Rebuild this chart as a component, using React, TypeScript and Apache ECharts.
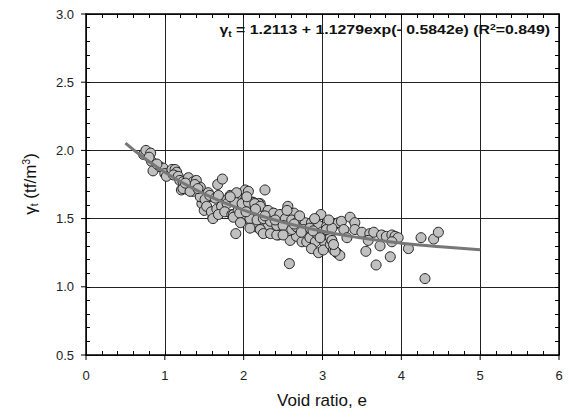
import React, { useEffect, useRef } from "react";
import * as echarts from "echarts";

// Measured data: void ratio e and unit weight γt (tf/m³)
const voidRatio = [
  0.73, 0.76, 0.82, 0.83, 0.85, 0.94, 0.98, 1.0, 1.02, 1.09, 1.13, 1.15, 1.11, 1.17, 1.19, 0.8, 0.9,
  1.23, 1.3, 1.36, 1.4, 1.45, 1.21, 1.3, 1.36, 1.23, 1.38, 1.32, 1.47, 1.55, 1.59, 1.67, 1.73, 1.47, 1.5,
  1.61, 1.66, 1.79, 1.83, 1.45, 1.51, 1.57, 1.64, 1.68, 1.53, 1.59, 1.66, 1.72, 1.79, 1.91, 1.61, 1.68,
  1.76, 1.85, 1.9, 1.26, 1.42,
  1.87, 1.93, 2.0, 2.02, 2.06, 2.27, 2.12, 2.21, 2.29, 2.36, 2.08, 2.12, 2.21, 2.31, 2.44, 2.1, 2.19,
  1.89, 1.98, 2.06, 2.14, 2.21, 2.31, 2.38, 2.46, 1.87, 1.95, 2.08, 2.17, 2.25, 2.08, 2.21, 2.25, 2.34,
  2.42, 2.34, 2.42, 1.91, 1.83, 2.04, 2.15, 2.27, 2.4, 1.96, 2.03,
  2.56, 2.64, 2.98, 2.58, 2.53, 2.61, 2.69, 2.78, 2.86, 2.95, 3.05, 3.14, 3.2, 2.5, 2.59, 2.67, 2.74,
  2.8, 2.5, 2.61, 2.67, 2.76, 2.84, 2.84, 2.91, 3.03, 3.1, 2.93, 2.99, 3.05, 3.12, 2.86, 2.95, 3.01,
  3.1, 3.14, 3.18, 3.22, 3.16, 3.12, 3.14, 2.71, 2.9, 2.55, 2.73, 2.88, 3.08, 2.64, 2.97,
  3.24, 3.27, 3.31, 3.35, 3.41, 3.41, 3.5, 3.6, 3.65, 3.75, 3.81, 3.88, 3.92, 3.96, 3.58, 3.73, 3.88,
  3.55, 3.86, 3.68, 4.09, 4.25, 4.41, 4.47, 4.3,
];
const unitWeight = [
  1.97, 2.0, 1.98, 1.92, 1.85, 1.88, 1.87, 1.83, 1.81, 1.86, 1.86, 1.84, 1.82, 1.81, 1.78, 1.95, 1.9,
  1.77, 1.8, 1.77, 1.78, 1.73, 1.71, 1.71, 1.7, 1.72, 1.75, 1.7, 1.67, 1.69, 1.66, 1.75, 1.79, 1.61, 1.56,
  1.51, 1.56, 1.64, 1.67, 1.66, 1.64, 1.67, 1.65, 1.67, 1.59, 1.55, 1.57, 1.59, 1.61, 1.67, 1.5, 1.53,
  1.55, 1.53, 1.39, 1.76, 1.72,
  1.53, 1.56, 1.51, 1.71, 1.7, 1.71, 1.62, 1.61, 1.56, 1.54, 1.49, 1.44, 1.42, 1.44, 1.38, 1.62, 1.61,
  1.62, 1.61, 1.62, 1.61, 1.59, 1.56, 1.54, 1.53, 1.51, 1.54, 1.5, 1.49, 1.5, 1.43, 1.42, 1.39, 1.39,
  1.38, 1.48, 1.45, 1.69, 1.66, 1.66, 1.57, 1.52, 1.49, 1.47, 1.55,
  1.59, 1.54, 1.53, 1.17, 1.5, 1.49, 1.48, 1.47, 1.47, 1.45, 1.44, 1.45, 1.47, 1.45, 1.34, 1.37, 1.33,
  1.33, 1.38, 1.42, 1.44, 1.42, 1.43, 1.36, 1.33, 1.32, 1.36, 1.39, 1.4, 1.42, 1.43, 1.28, 1.25, 1.27,
  1.31, 1.27, 1.25, 1.23, 1.26, 1.34, 1.31, 1.52, 1.5, 1.56, 1.4, 1.41, 1.49, 1.46, 1.36,
  1.48, 1.42, 1.36, 1.51, 1.47, 1.42, 1.4, 1.39, 1.4, 1.38, 1.37, 1.38, 1.37, 1.36, 1.34, 1.3, 1.33,
  1.26, 1.22, 1.16, 1.28, 1.36, 1.35, 1.4, 1.06,
];

// Fitted curve
const fitVoidRatio = [0.5, 0.75, 1.0, 1.25, 1.5, 1.75, 2.0, 2.5, 3.0, 3.5, 4.0, 4.5, 5.0];
const fitUnitWeight = [2.054, 1.939, 1.84, 1.755, 1.681, 1.617, 1.562, 1.473, 1.407, 1.357, 1.32, 1.293, 1.272];

// Major tick values (for the outward half of the crossing ticks)
const xMajorTicks = [0, 1, 2, 3, 4, 5, 6];
const yMajorTicks = [0.5, 1.0, 1.5, 2.0, 2.5, 3.0];

const FONT = "'Liberation Sans', Arial, Helvetica, sans-serif";

export default function App() {
  const ref = useRef<HTMLDivElement>(null);

  useEffect(() => {
    if (!ref.current) return;
    const chart = echarts.init(ref.current, null, { renderer: "svg" });

    const points = voidRatio.map((e, i) => [e, unitWeight[i]]);
    const fit = fitVoidRatio.map((e, i) => [e, fitUnitWeight[i]]);

    const tickCommon = {
      axisTick: { show: true, inside: true, length: 4, lineStyle: { color: "#000", width: 1 } },
      minorTick: { show: true, splitNumber: 5, length: 4, lineStyle: { color: "#000", width: 1 } },
    };
    const axisLine = { show: true, onZero: false, lineStyle: { color: "#000", width: 1.5 } };
    const labelStyle = { fontSize: 13, color: "#222", fontFamily: FONT };

    const textGraphics: any[] = [
      {
        type: "text", id: "eq", x: 550, y: 30, z: 10, scaleX: 1.22,
        style: {
          text: "{b|γ}{s|t}{b| = 1.2113 + 1.1279exp(- 0.5842e) (R}{p|2}{b|=0.849)}",
          align: "right", verticalAlign: "middle",
          rich: {
            b: { fontFamily: FONT, fontWeight: "bold", fontSize: 13, fill: "#111" },
            s: { fontFamily: FONT, fontWeight: "bold", fontSize: 8.5, fill: "#111", padding: [7, 0, 0, 0] },
            p: { fontFamily: FONT, fontWeight: "bold", fontSize: 8.5, fill: "#111", padding: [0, 0, 7, 0] },
          },
        },
      },
      {
        type: "text", id: "ytitle", x: 30, y: 184, rotation: Math.PI / 2, z: 10,
        style: {
          text: "{n|γ}{s|t}{n| (tf/m}{p|3}{n|)}",
          align: "center", verticalAlign: "middle",
          rich: {
            n: { fontFamily: FONT, fontSize: 17, fill: "#111" },
            s: { fontFamily: FONT, fontSize: 10.5, fill: "#111", padding: [8, 0, 0, 0] },
            p: { fontFamily: FONT, fontSize: 10.5, fill: "#111", padding: [0, 0, 8, 0] },
          },
        },
      },
      {
        type: "text", id: "xtitle", x: 322, y: 400, z: 10,
        style: {
          text: "Void ratio, e", fontFamily: FONT, fontSize: 17, fill: "#111",
          align: "center", verticalAlign: "middle",
        },
      },
    ];

    chart.setOption({
      animation: false,
      backgroundColor: "#fff",
      grid: { left: 86, right: 10, top: 14, bottom: 62, containLabel: false },
      xAxis: [
        {
          type: "value", min: 0, max: 6, interval: 1, position: "bottom",
          axisLine, ...tickCommon,
          axisLabel: { ...labelStyle, margin: 14 },
          splitLine: { show: true, lineStyle: { color: "#222", width: 1 } },
        },
        {
          type: "value", min: 0, max: 6, interval: 1, position: "top",
          axisLine, ...tickCommon,
          axisLabel: { show: false }, splitLine: { show: false },
        },
      ],
      yAxis: [
        {
          type: "value", min: 0.5, max: 3.0, interval: 0.5, position: "left",
          axisLine, ...tickCommon,
          axisLabel: { ...labelStyle, margin: 12, formatter: (v: number) => v.toFixed(1) },
          splitLine: { show: true, lineStyle: { color: "#222", width: 1 } },
        },
        {
          type: "value", min: 0.5, max: 3.0, interval: 0.5, position: "right",
          axisLine, ...tickCommon,
          axisLabel: { show: false }, splitLine: { show: false },
        },
      ],
      series: [
        {
          type: "scatter", xAxisIndex: 0, yAxisIndex: 0, data: points,
          symbol: "circle", symbolSize: 10,
          itemStyle: { color: "#c0c0c0", borderColor: "#222", borderWidth: 1, opacity: 1 },
          z: 2,
        },
        {
          type: "line", xAxisIndex: 0, yAxisIndex: 0, data: fit,
          showSymbol: false, smooth: true,
          lineStyle: { color: "#777", width: 3 },
          z: 3,
        },
      ],
      graphic: textGraphics,
    });

    // Outward halves of the major ticks (positions from the axis scales)
    const yBottom = chart.convertToPixel({ yAxisIndex: 0 }, 0.5) as number;
    const xLeft = chart.convertToPixel({ xAxisIndex: 0 }, 0) as number;
    const tickGraphics: any[] = [];
    xMajorTicks.forEach((v, i) => {
      const px = chart.convertToPixel({ xAxisIndex: 0 }, v) as number;
      tickGraphics.push({
        type: "line", id: "xt" + i, z: 5,
        shape: { x1: px, y1: yBottom, x2: px, y2: yBottom + 5 },
        style: { stroke: "#000", lineWidth: 1 },
      });
    });
    yMajorTicks.forEach((v, i) => {
      const py = chart.convertToPixel({ yAxisIndex: 0 }, v) as number;
      tickGraphics.push({
        type: "line", id: "yt" + i, z: 5,
        shape: { x1: xLeft - 5, y1: py, x2: xLeft, y2: py },
        style: { stroke: "#000", lineWidth: 1 },
      });
    });
    chart.setOption({ graphic: [...textGraphics, ...tickGraphics] });

    return () => chart.dispose();
  }, []);

  return (
    <div
      ref={ref}
      style={{ position: "fixed", left: 0, top: 0, width: 569, height: 417, background: "#fff" }}
    />
  );
}
